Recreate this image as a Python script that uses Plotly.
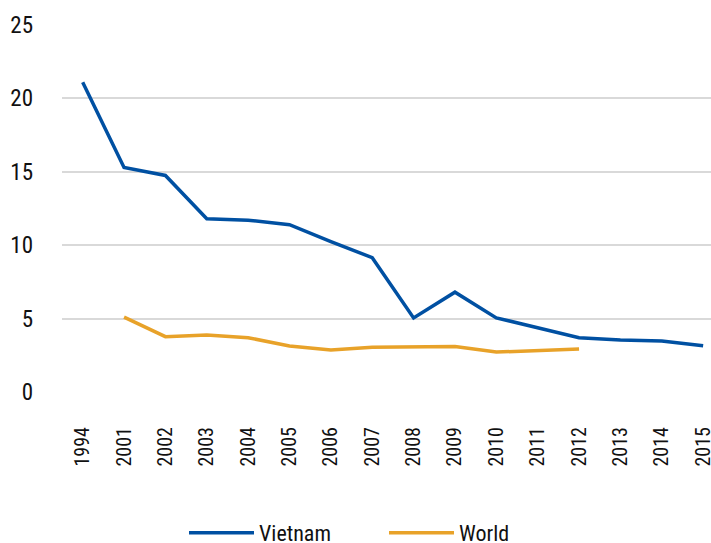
import plotly.graph_objects as go

years = ["1994", "2001", "2002", "2003", "2004", "2005", "2006", "2007",
         "2008", "2009", "2010", "2011", "2012", "2013", "2014", "2015"]
vietnam = [21.1, 15.3, 14.75, 11.8, 11.7, 11.4, 10.25, 9.15,
           5.05, 6.8, 5.05, 4.35, 3.7, 3.55, 3.47, 3.15]
world = [None, 5.1, 3.77, 3.88, 3.7, 3.13, 2.86, 3.05,
         3.05, 3.1, 2.72, 2.8, 2.93, None, None, None]
y_ticks = [0, 5, 10, 15, 20, 25]

FONT = "Liberation Sans Narrow, Roboto Condensed, Arial Narrow, Liberation Sans, sans-serif"

W, H = 711, 543

fig = go.Figure()
fig.add_trace(go.Scatter(x=years, y=vietnam, mode="lines", name="Vietnam",
                         line=dict(color="#0050A2", width=3.5)))
fig.add_trace(go.Scatter(x=years, y=world, mode="lines", name="World",
                         line=dict(color="#E8A229", width=3.5)))

fig.update_layout(
    width=W, height=H,
    margin=dict(l=62, r=0, t=25, b=151, autoexpand=False),
    paper_bgcolor="white", plot_bgcolor="white",
    font=dict(family=FONT, color="#111111", size=22),
    showlegend=True,
    legend=dict(orientation="h", xref="container", yref="container",
                x=184 / W, xanchor="left", y=1 - 533 / H, yanchor="middle",
                font=dict(size=22), itemwidth=65, tracegroupgap=0,
                entrywidth=120),
    xaxis=dict(type="category", range=[-0.5, 15.19], tickangle=-90,
               showgrid=False, showline=False, zeroline=False,
               ticks="", ticklabelstandoff=30, automargin=False,
               tickfont=dict(size=20, family=FONT)),
    yaxis=dict(range=[0, 25], tickvals=y_ticks, showgrid=True,
               gridcolor="#d9d9d9", gridwidth=1.5, zeroline=False,
               showline=False, ticks="", ticklabelstandoff=28,
               automargin=False,
               tickfont=dict(size=23, family=FONT)),
)

fig.write_html(
    "out.html",
    config={"displayModeBar": False},
    post_script="document.body.style.margin='0';document.body.style.overflow='hidden';",
)
